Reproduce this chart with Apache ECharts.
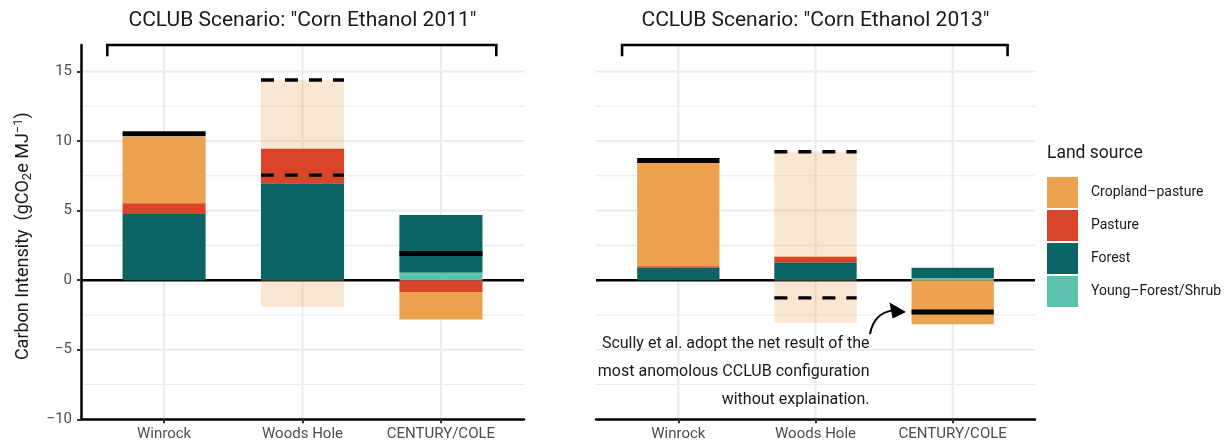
<!DOCTYPE html>
<html>
<head>
<meta charset="utf-8">
<title>CCLUB scenarios</title>
<script src="https://cdn.jsdelivr.net/npm/echarts@6/dist/echarts.min.js"></script>
<style>
  html, body { margin: 0; background: #fff; }
  #chart { width: 1225px; height: 447px; }
</style>
</head>
<body>
<div id="chart"></div>
<script>
// categories and land sources (legend order)
var categories = ["Winrock", "Woods Hole", "CENTURY/COLE"];
var sources = ["Cropland\u2013pasture", "Pasture", "Forest", "Young\u2013Forest/Shrub"];
var sourceColors = ["#ECA24F", "#DA4428", "#0B6363", "#5BC3AD"];

// CCLUB "Corn Ethanol 2011" (gCO2e/MJ), one value per category
var cropland2011 = [4.79, 0, -1.97];
var pasture2011 = [0.77, 2.5, -0.86];
var forest2011 = [4.75, 6.95, 4.15];
var young2011 = [0, 0, 0.53];
var net2011 = [10.52, null, 1.92];
var rangeLow2011 = [null, -1.92, null];
var rangeHigh2011 = [null, 14.38, null];
var dashed2011 = [[2, 14.38], [2, 7.55]];

// CCLUB "Corn Ethanol 2013"
var cropland2013 = [7.42, 0, -3.17];
var pasture2013 = [0.1, 0.41, 0];
var forest2013 = [0.9, 1.27, 0.77];
var young2013 = [0, 0, 0.12];
var net2013 = [8.6, null, -2.28];
var rangeLow2013 = [null, -3.04, null];
var rangeHigh2013 = [null, 9.23, null];
var dashed2013 = [[2, 9.23], [2, -1.27]];

// axis breaks
var majorBreaks = [-10, -5, 0, 5, 10, 15];
var minorBreaks = [-7.5, -2.5, 2.5, 7.5, 12.5];
var catPositions = [1, 2, 3];

// annotation
var noteLines = ["Scully et al. adopt the net result of the", "most anomolous CCLUB configuration", "without explaination."];
var noteAnchor = [2.394, -3.55];
var arrowFrom = [2.397, -3.88];
var arrowTo = [2.66, -2.28];

var xMin = 0.4, xMax = 3.6, yMin = -10, yMax = 16.9;
var barHalf = 0.3;
var bracketX = [0.59, 3.4], bracketY = [16.1, 16.9];
var FONT = "Roboto, 'DejaVu Sans Condensed', sans-serif";

var panels = [
    {title: 'CCLUB Scenario: "Corn Ethanol 2011"', values: [cropland2011, pasture2011, forest2011, young2011],
        net: net2011, low: rangeLow2011, high: rangeHigh2011, dashed: dashed2011, left: 81, width: 443},
    {title: 'CCLUB Scenario: "Corn Ethanol 2013"', values: [cropland2013, pasture2013, forest2013, young2013],
        net: net2013, low: rangeLow2013, high: rangeHigh2013, dashed: dashed2013, left: 596, width: 439}
];

// stack positives up and negatives down, bottom layer = last source
function stackBars(values) {
    var pos = [0, 0, 0], neg = [0, 0, 0];
    var out = values.map(function () { return []; });
    for (var s = values.length - 1; s >= 0; s--) {
        values[s].forEach(function (v, i) {
            if (v > 0) { out[s].push([i + 1, pos[i], pos[i] + v]); pos[i] += v; }
            else if (v < 0) { out[s].push([i + 1, neg[i] + v, neg[i]]); neg[i] += v; }
        });
    }
    return out;
}

function rectBetween(api, x, lo, hi) {
    var p0 = api.coord([x - barHalf, hi]);
    var p1 = api.coord([x + barHalf, lo]);
    return {x: p0[0], y: p0[1], width: p1[0] - p0[0], height: p1[1] - p0[1]};
}

function renderGrid(params, api) {
    var v = api.value(0), kind = api.value(1), a, b;
    if (kind === 2) { a = api.coord([v, yMin]); b = api.coord([v, yMax]); }
    else { a = api.coord([xMin, v]); b = api.coord([xMax, v]); }
    return {
        type: 'line', silent: true,
        shape: {x1: a[0], y1: a[1], x2: b[0], y2: b[1]},
        style: {stroke: kind === 3 ? '#000' : '#EBEBEB', lineWidth: kind === 1 ? 1.1 : (kind === 3 ? 2.5 : 2)}
    };
}

function renderRange(params, api) {
    return {type: 'rect', shape: rectBetween(api, api.value(0), api.value(1), api.value(2)),
        style: {fill: '#ECA24F', opacity: 0.26}};
}

function barRenderer(color) {
    return function (params, api) {
        return {type: 'rect', shape: rectBetween(api, api.value(0), api.value(1), api.value(2)),
            style: {fill: color}};
    };
}

function renderLevel(params, api) {
    var x = api.value(0), y = api.value(1), dashed = api.value(2) === 1;
    var a = api.coord([x - barHalf, y]), b = api.coord([x + barHalf, y]);
    return {
        type: 'line', shape: {x1: a[0], y1: a[1], x2: b[0], y2: b[1]},
        style: {stroke: '#000', lineWidth: dashed ? 3.4 : 5, lineDash: dashed ? [13, 11] : null, lineCap: 'butt'}
    };
}

function renderBracket(params, api) {
    var pts = [
        api.coord([bracketX[0], bracketY[0]]), api.coord([bracketX[0], bracketY[1]]),
        api.coord([bracketX[1], bracketY[1]]), api.coord([bracketX[1], bracketY[0]])
    ];
    return {type: 'polyline', shape: {points: pts}, style: {stroke: '#000', lineWidth: 2.6, fill: null}};
}

function renderNote(params, api) {
    var t = api.coord(noteAnchor);
    var s = api.coord(arrowFrom);
    var e = api.coord(arrowTo);
    var shaftEnd = [e[0] - 15, e[1] - 1.5];
    var ctrl = [s[0] + 4, e[1] + 1];
    return {
        type: 'group',
        children: [
            {type: 'text', x: t[0], y: t[1],
                style: {text: noteLines.join('\n'), align: 'right', verticalAlign: 'top',
                    fontSize: 16, fontFamily: FONT, lineHeight: 28, fill: '#1A1A1A'}},
            {type: 'path',
                shape: {pathData: 'M' + s[0] + ' ' + s[1] + ' Q' + ctrl[0] + ' ' + ctrl[1] + ' ' + (shaftEnd[0] + 2) + ' ' + shaftEnd[1]},
                style: {stroke: '#000', lineWidth: 2, fill: null}},
            {type: 'polygon',
                shape: {points: [[e[0], e[1]], [shaftEnd[0] - 1.5, shaftEnd[1] - 8], [shaftEnd[0] + 1.5, shaftEnd[1] + 8]]},
                style: {fill: '#000'}}
        ]
    };
}

var gridData = majorBreaks.map(function (v) { return [v, 0]; })
    .concat(minorBreaks.map(function (v) { return [v, 1]; }))
    .concat(catPositions.map(function (v) { return [v, 2]; }))
    .concat([[0, 3]]);

var grids = [], xAxes = [], yAxes = [], titles = [], series = [];

panels.forEach(function (p, k) {
    grids.push({left: p.left, width: p.width, top: 45, height: 374.3});
    titles.push({text: p.title, left: p.left + p.width / 2, top: 10, textAlign: 'center', padding: 0,
        textStyle: {fontSize: 21, fontWeight: 'normal', color: '#1A1A1A', fontFamily: FONT}});
    xAxes.push({
        gridIndex: k, type: 'value', min: xMin, max: xMax,
        axisLine: {show: true, onZero: false, lineStyle: {color: '#000', width: 2.5}},
        axisTick: {show: true, customValues: catPositions, length: 4, lineStyle: {color: '#333', width: 2}},
        axisLabel: {customValues: catPositions, margin: 7, color: '#4D4D4D', fontSize: 15, fontFamily: FONT,
            formatter: function (v) { return categories[Math.round(v) - 1]; }},
        splitLine: {show: false}
    });
    yAxes.push({
        gridIndex: k, type: 'value', min: yMin, max: yMax,
        axisLine: {show: k === 0, onZero: false, lineStyle: {color: '#000', width: 2.5}},
        axisTick: {show: k === 0, customValues: majorBreaks, length: 4, lineStyle: {color: '#333', width: 2}},
        axisLabel: {show: k === 0, customValues: majorBreaks, margin: 9, color: '#4D4D4D', fontSize: 15, fontFamily: FONT,
            formatter: function (v) { return v < 0 ? '\u2212' + Math.abs(v) : String(v); }},
        splitLine: {show: false},
        name: k === 0 ? '{a|Carbon Intensity  (gCO}{s|2}{a|e MJ}{u|\u22121}{a|)}' : '',
        nameLocation: 'middle', nameGap: 47, nameRotate: 90,
        nameTextStyle: {
            fontFamily: FONT, color: '#1A1A1A', padding: [0, 8, 0, 0],
            rich: {
                a: {fontSize: 18, fontFamily: FONT, color: '#1A1A1A', lineHeight: 22},
                s: {fontSize: 13, fontFamily: FONT, color: '#1A1A1A', verticalAlign: 'bottom', lineHeight: 22},
                u: {fontSize: 13, fontFamily: FONT, color: '#1A1A1A', verticalAlign: 'top', lineHeight: 14}
            }
        }
    });

    series.push({type: 'custom', name: 'grid' + k, xAxisIndex: k, yAxisIndex: k, z: 0, silent: true,
        renderItem: renderGrid, data: gridData});

    var rangeData = [];
    p.low.forEach(function (lo, i) { if (lo !== null) rangeData.push([i + 1, lo, p.high[i]]); });
    series.push({type: 'custom', name: 'range' + k, xAxisIndex: k, yAxisIndex: k, z: 1, silent: true,
        renderItem: renderRange, data: rangeData});

    var stacked = stackBars(p.values);
    sources.forEach(function (name, s) {
        series.push({type: 'custom', name: name, xAxisIndex: k, yAxisIndex: k, z: 2,
            itemStyle: {color: sourceColors[s]}, renderItem: barRenderer(sourceColors[s]), data: stacked[s]});
    });

    var levelData = [];
    p.net.forEach(function (v, i) { if (v !== null) levelData.push([i + 1, v, 0]); });
    p.dashed.forEach(function (d) { levelData.push([d[0], d[1], 1]); });
    series.push({type: 'custom', name: 'levels' + k, xAxisIndex: k, yAxisIndex: k, z: 3, silent: true,
        renderItem: renderLevel, data: levelData});

    series.push({type: 'custom', name: 'bracket' + k, xAxisIndex: k, yAxisIndex: k, z: 3, silent: true,
        renderItem: renderBracket, data: [[2, bracketY[1]]]});
});

series.push({type: 'custom', name: 'note', xAxisIndex: 1, yAxisIndex: 1, z: 4, silent: true,
    renderItem: renderNote, data: [noteAnchor]});

titles.push({text: 'Land source', left: 1047, top: 145, padding: 0,
    textStyle: {fontSize: 17.5, fontWeight: 'normal', color: '#1A1A1A', fontFamily: FONT}});

var myChart = echarts.init(document.getElementById("chart"), null, {renderer: 'canvas'});
myChart.setOption({
    animation: false,
    backgroundColor: '#fff',
    title: titles,
    legend: {
        orient: 'vertical', left: 1047, top: 177, padding: 0,
        itemWidth: 31, itemHeight: 31, itemGap: 2, icon: 'rect', selectedMode: false,
        data: sources,
        textStyle: {fontSize: 14, color: '#1A1A1A', fontFamily: FONT, padding: [0, 0, 0, 8]}
    },
    grid: grids,
    xAxis: xAxes,
    yAxis: yAxes,
    series: series
});
</script>
</body>
</html>
